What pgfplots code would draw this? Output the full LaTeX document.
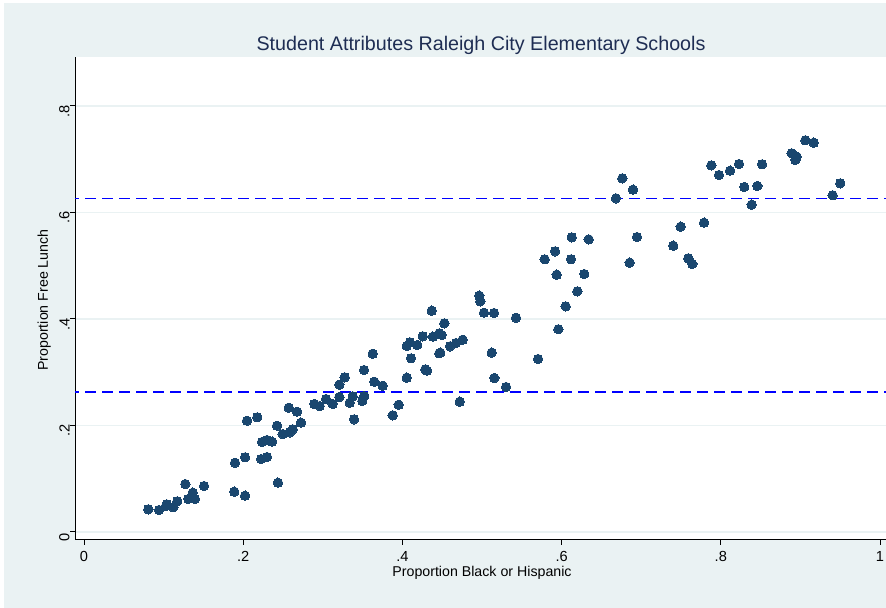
\documentclass[border=0pt]{standalone}
\usepackage{pgfplots}
\pgfplotsset{compat=1.18}
\usepackage{pgfplotstable}
\usepackage{fontspec}
\setmainfont{Liberation Sans}
\definecolor{bgc}{RGB}{234,242,243}
\definecolor{gridc}{RGB}{234,242,243}
\definecolor{mkc}{RGB}{26,71,111}
\definecolor{titc}{RGB}{30,45,83}
\newcommand{\tickfont}{\fontsize{7.3}{8.5}\selectfont}
\newcommand{\labfont}{\fontsize{7.1}{8.5}\selectfont}
\newcommand{\titfont}{\fontsize{9.85}{11.5}\selectfont}
\pgfplotstableread{
x y
0.0808 0.0426
0.0942 0.0413
0.1039 0.0520
0.1030 0.0490
0.1122 0.0464
0.1172 0.0577
0.1273 0.0901
0.1310 0.0620
0.1366 0.0738
0.1394 0.0620
0.1508 0.0864
0.1888 0.0757
0.1897 0.1301
0.2023 0.1403
0.2023 0.0682
0.2048 0.2090
0.2177 0.2154
0.2236 0.1690
0.2299 0.1728
0.2362 0.1696
0.2227 0.1371
0.2299 0.1408
0.2425 0.1996
0.2437 0.0926
0.2496 0.1840
0.2588 0.1872
0.2622 0.1929
0.2572 0.2334
0.2676 0.2259
0.2726 0.2053
0.2893 0.2404
0.2961 0.2366
0.3040 0.2498
0.3124 0.2404
0.3208 0.2535
0.3208 0.2766
0.3275 0.2905
0.3338 0.2428
0.3376 0.2548
0.3392 0.2116
0.3496 0.2460
0.3521 0.2554
0.3518 0.3042
0.3627 0.3348
0.3647 0.2822
0.3752 0.2747
0.3878 0.2191
0.3953 0.2390
0.4054 0.2898
0.4108 0.3262
0.4054 0.3493
0.4095 0.3562
0.4187 0.3512
0.4255 0.3675
0.4288 0.3055
0.4309 0.3029
0.4368 0.4156
0.4384 0.3668
0.4464 0.3731
0.4493 0.3700
0.4464 0.3356
0.4476 0.3368
0.4527 0.3919
0.4598 0.3487
0.4673 0.3549
0.4757 0.3611
0.4720 0.2447
0.4966 0.4438
0.4979 0.4332
0.5025 0.4118
0.5151 0.4113
0.5122 0.3368
0.5155 0.2892
0.5302 0.2723
0.5427 0.4024
0.5704 0.3249
0.5959 0.3807
0.6051 0.4238
0.6198 0.4520
0.6285 0.4845
0.5938 0.4832
0.5787 0.5121
0.5917 0.5271
0.6118 0.5121
0.6127 0.5534
0.6340 0.5496
0.6855 0.5058
0.6947 0.5540
0.6683 0.6266
0.6763 0.6642
0.6897 0.6429
0.7403 0.5377
0.7496 0.5734
0.7592 0.5140
0.7642 0.5033
0.7789 0.5809
0.7881 0.6886
0.7977 0.6704
0.8116 0.6785
0.8229 0.6911
0.8295 0.6479
0.8388 0.6147
0.8459 0.6498
0.8518 0.6905
0.8890 0.7112
0.8953 0.7048
0.8936 0.6986
0.9062 0.7356
0.9167 0.7311
0.9405 0.6323
0.9501 0.6548
}\schools
\begin{document}
\begin{tikzpicture}
\fill[bgc] (2pt,0pt) rectangle (443pt,302.5pt);
\begin{axis}[
  at={(37.5pt,34pt)}, anchor=south west,
  scale only axis, width=405.5pt, height=241.5pt,
  xmin=-0.01131, xmax=1.00754, ymin=-0.01502, ymax=0.8920,
  axis lines*=left,
  axis line style={black, line width=0.5pt},
  axis background/.style={fill=white},
  xtick={0,0.2,0.4,0.6,0.8,1}, xticklabels={0,.2,.4,.6,.8,1},
  ytick={0,0.2,0.4,0.6,0.8}, yticklabels={0,.2,.4,.6,.8},
  tick align=outside, major tick length=2.5pt,
  tick style={black, line width=0.5pt},
  ymajorgrids, grid style={gridc, line width=0.85pt},
  /pgf/number format/assume math mode=true,
  xticklabel style={font=\tickfont, anchor=north, inner sep=0pt, yshift=-2.8pt},
  yticklabel style={font=\tickfont, rotate=90, anchor=south, inner sep=0pt, xshift=-2.5pt},
  clip=true,
]
\addplot[blue, line width=0.6pt, dash pattern=on 5.5pt off 3pt] coordinates {(-0.02,0.627) (1.02,0.627)};
\addplot[blue, line width=0.6pt, dash pattern=on 5.5pt off 3pt] coordinates {(-0.02,0.263) (1.02,0.263)};
\addplot[only marks, mark=*, mark size=2.35pt, mark options={fill=mkc, draw=mkc, line width=0pt}] table[x=x,y=y] {\schools};
\end{axis}
\node[anchor=base, text=titc, font=\titfont, inner sep=0pt] at (240.5pt,278.5pt) {Student Attributes Raleigh City Elementary Schools};
\node[anchor=base, font=\labfont, inner sep=0pt] at (241pt,15.5pt) {Proportion Black or Hispanic};
\node[anchor=base, rotate=90, font=\labfont, inner sep=0pt] at (24pt,154pt) {Proportion Free Lunch};
\pgfresetboundingbox
\path[use as bounding box] (0pt,0pt) rectangle (443pt,304pt);
\end{tikzpicture}
\end{document}
